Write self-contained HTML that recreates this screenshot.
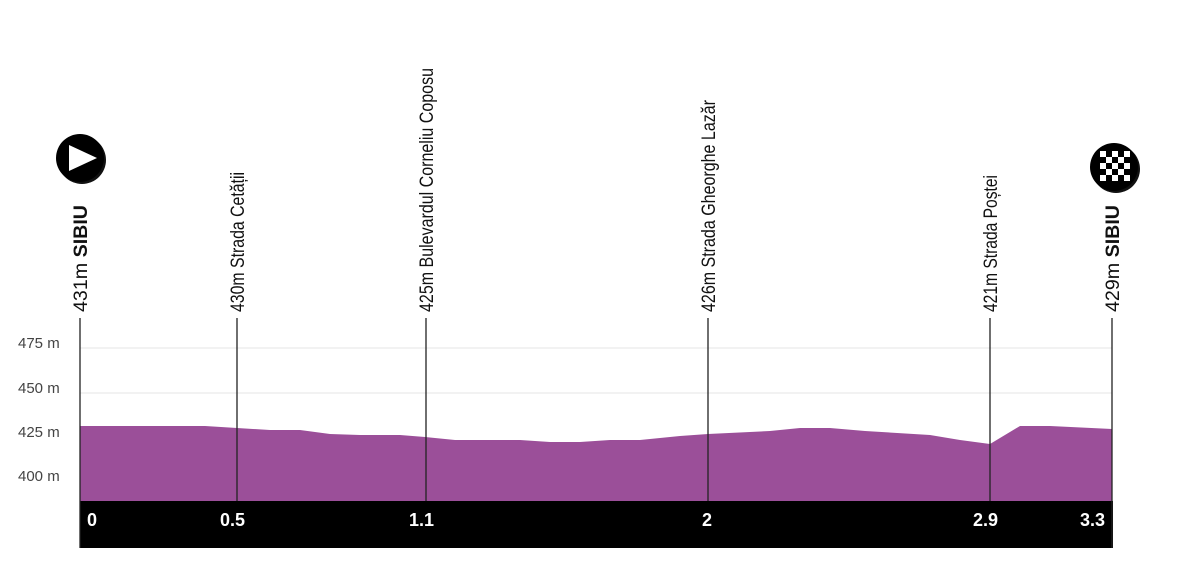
<!DOCTYPE html>
<html><head><meta charset="utf-8"><style>html,body{margin:0;padding:0;background:#fff;}svg{display:block}</style></head>
<body>
<svg width="1178" height="573" viewBox="0 0 1178 573" xmlns="http://www.w3.org/2000/svg" font-family="'Liberation Sans Narrow','Liberation Sans',sans-serif">
<line x1="80" y1="348" x2="1112" y2="348" stroke="#e4e4e4" stroke-width="1"/>
<line x1="80" y1="393" x2="1112" y2="393" stroke="#e4e4e4" stroke-width="1"/>
<g fill="#444" font-size="15">
<text x="18" y="348">475 m</text>
<text x="18" y="393">450 m</text>
<text x="18" y="437">425 m</text>
<text x="18" y="481">400 m</text>
</g>
<polygon fill="#9b4f99" points="80,501 80,426 205,426 237,428 270,430 300,430 330,434 360,435 400,435 425,437 455,440 520,440 550,442 580,442 610,440 640,440 680,436 708,434 770,431 800,428 830,428 865,431 930,435 960,440 990,444 1020,426 1050,426 1112,429 1112,501"/>
<rect x="80" y="501" width="1033" height="47" fill="#000"/>
<g stroke="#222" stroke-width="1.3">
<line x1="80" y1="318" x2="80" y2="548"/>
<line x1="237" y1="318" x2="237" y2="501"/>
<line x1="426" y1="318" x2="426" y2="501"/>
<line x1="708" y1="318" x2="708" y2="501"/>
<line x1="990" y1="318" x2="990" y2="501"/>
<line x1="1112" y1="318" x2="1112" y2="548"/>
</g>
<g fill="#fff" font-weight="bold" font-size="18" font-family="'Liberation Sans',sans-serif">
<text x="87" y="526">0</text>
<text x="220" y="526">0.5</text>
<text x="409" y="526">1.1</text>
<text x="702" y="526">2</text>
<text x="973" y="526">2.9</text>
<text x="1080" y="526">3.3</text>
</g>
<g fill="#111" font-size="19" text-anchor="start">
<text transform="translate(87,312) rotate(-90)" textLength="107" lengthAdjust="spacingAndGlyphs">431m <tspan font-weight="bold">SIBIU</tspan></text>
<text transform="translate(244,312) rotate(-90)" textLength="140" lengthAdjust="spacingAndGlyphs">430m Strada Cetății</text>
<text transform="translate(433,312) rotate(-90)" textLength="244" lengthAdjust="spacingAndGlyphs">425m Bulevardul Corneliu Coposu</text>
<text transform="translate(715,312) rotate(-90)" textLength="212" lengthAdjust="spacingAndGlyphs">426m Strada Gheorghe Lazăr</text>
<text transform="translate(997,312) rotate(-90)" textLength="137" lengthAdjust="spacingAndGlyphs">421m Strada Poștei</text>
<text transform="translate(1119,312) rotate(-90)" textLength="107" lengthAdjust="spacingAndGlyphs">429m <tspan font-weight="bold">SIBIU</tspan></text>
</g>
<circle cx="82" cy="160" r="24" fill="#111"/>
<circle cx="80" cy="158" r="24" fill="#000"/>
<polygon points="69,145 69,171 97,158" fill="#fff"/>
<circle cx="1116" cy="169" r="24" fill="#111"/>
<circle cx="1114" cy="167" r="24" fill="#000"/>
<g fill="#fff">
<rect x="1100" y="151" width="6" height="6"/><rect x="1112" y="151" width="6" height="6"/><rect x="1124" y="151" width="6" height="6"/>
<rect x="1106" y="157" width="6" height="6"/><rect x="1118" y="157" width="6" height="6"/>
<rect x="1100" y="163" width="6" height="6"/><rect x="1112" y="163" width="6" height="6"/><rect x="1124" y="163" width="6" height="6"/>
<rect x="1106" y="169" width="6" height="6"/><rect x="1118" y="169" width="6" height="6"/>
<rect x="1100" y="175" width="6" height="6"/><rect x="1112" y="175" width="6" height="6"/><rect x="1124" y="175" width="6" height="6"/>
</g>
</svg>
</body></html>
